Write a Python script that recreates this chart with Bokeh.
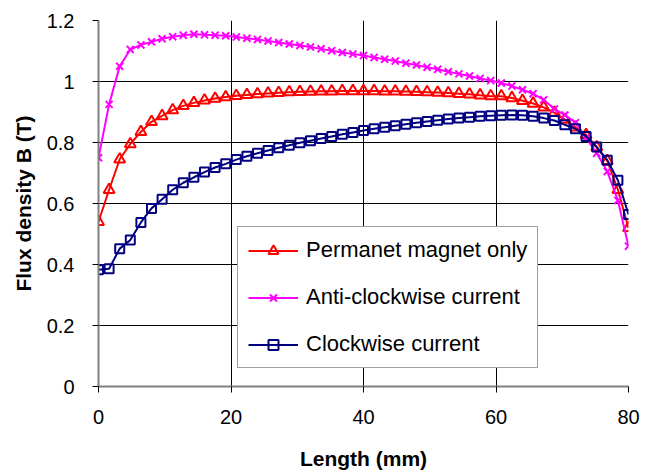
from bokeh.plotting import figure
from bokeh.models import Range1d, FixedTicker, Legend
from bokeh.embed import file_html
from bokeh.resources import INLINE

# ---- data ----
length_mm = [round(1.6 * i, 1) for i in range(51)]

permanent_only = [0.54, 0.645, 0.745, 0.795, 0.835, 0.868, 0.887, 0.906, 0.92, 0.93,
                  0.938, 0.944, 0.949, 0.953, 0.956, 0.959, 0.961, 0.963, 0.965, 0.966,
                  0.967, 0.968, 0.968, 0.969, 0.969, 0.969, 0.969, 0.968, 0.968, 0.967,
                  0.966, 0.965, 0.964, 0.962, 0.96, 0.958, 0.955, 0.952, 0.952, 0.946,
                  0.937, 0.928, 0.915, 0.898, 0.875, 0.85, 0.825, 0.785, 0.74, 0.645, 0.52]

anti_clockwise = [0.75, 0.925, 1.05, 1.105, 1.12, 1.13, 1.14, 1.147, 1.152, 1.155,
                  1.153, 1.152, 1.15, 1.146, 1.142, 1.138, 1.133, 1.128, 1.123, 1.118,
                  1.113, 1.107, 1.101, 1.095, 1.09, 1.085, 1.079, 1.073, 1.067, 1.06,
                  1.054, 1.047, 1.04, 1.032, 1.025, 1.018, 1.01, 1.003, 0.995, 0.985,
                  0.973, 0.96, 0.94, 0.91, 0.89, 0.865, 0.815, 0.765, 0.705, 0.61, 0.46]

clockwise = [0.383, 0.386, 0.452, 0.48, 0.538, 0.584, 0.614, 0.645, 0.668, 0.686,
             0.703, 0.718, 0.73, 0.744, 0.755, 0.765, 0.774, 0.783, 0.791, 0.799,
             0.806, 0.813, 0.82, 0.827, 0.833, 0.839, 0.845, 0.85, 0.855, 0.86,
             0.865, 0.869, 0.873, 0.877, 0.88, 0.883, 0.886, 0.888, 0.889, 0.89,
             0.889, 0.886, 0.88, 0.872, 0.858, 0.845, 0.82, 0.785, 0.742, 0.676, 0.564]

series_names = ["Permanet magnet only", "Anti-clockwise current", "Clockwise current"]
x_ticks = [0, 20, 40, 60, 80]
y_ticks = [0, 0.2, 0.4, 0.6, 0.8, 1, 1.2]
y_tick_labels = ["0", "0.2", "0.4", "0.6", "0.8", "1", "1.2"]

FONT = "Liberation Sans"

p = figure(width=644, height=472, output_backend="svg", toolbar_location=None,
           x_range=Range1d(0, 80), y_range=Range1d(0, 1.2),
           min_border_left=98, min_border_right=16, min_border_top=20, min_border_bottom=82)
p.outline_line_color = None
p.background_fill_color = "white"
p.border_fill_color = "white"

styles = [
    (permanent_only, "#FF0000", "triangle", 11),
    (anti_clockwise, "#FF00FF", "x", 10),
    (clockwise, "#000080", "square", 9),
]
items = []
for (vals, col, mk, sz), name in zip(styles, series_names):
    l = p.line(length_mm, vals, line_color=col, line_width=2)
    s = p.scatter(length_mm, vals, marker=mk, size=sz, line_color=col, fill_color=None, line_width=2)
    items.append((name, [l, s]))

legend = Legend(items=items, location=(139, 18))
legend.label_text_font = FONT
legend.label_text_font_size = "22px"
legend.label_text_color = "black"
legend.glyph_width = 50
legend.glyph_height = 25
legend.label_height = 25
legend.label_standoff = 8
legend.spacing = 21
legend.padding = 10
legend.margin = 0
legend.border_line_color = "#404040"
legend.border_line_width = 1
legend.background_fill_color = "white"
legend.background_fill_alpha = 1
p.add_layout(legend, "center")

# axes
p.xaxis.ticker = FixedTicker(ticks=x_ticks)
p.yaxis.ticker = FixedTicker(ticks=y_ticks)
p.yaxis.major_label_overrides = dict(zip(y_ticks, y_tick_labels))
p.xgrid.ticker = FixedTicker(ticks=x_ticks)
p.ygrid.ticker = FixedTicker(ticks=y_ticks)
for g in (p.xgrid, p.ygrid):
    g.grid_line_color = "black"
    g.grid_line_width = 1

for ax in (p.xaxis, p.yaxis):
    ax.major_label_text_font = FONT
    ax.major_label_text_font_size = "20px"
    ax.major_label_text_color = "black"
    ax.axis_label_text_font = FONT
    ax.axis_label_text_font_size = "21px"
    ax.axis_label_text_font_style = "bold"
    ax.axis_label_text_color = "black"
    ax.minor_tick_line_color = None
    ax.major_tick_in = 0
    ax.major_tick_out = 6
    ax.major_tick_line_color = "black"
    ax.axis_line_color = "#808080"
    ax.axis_line_width = 2

p.xaxis.axis_label = "Length (mm)"
p.yaxis.axis_label = "Flux density B (T)"
p.xaxis.major_label_standoff = 17
p.yaxis.major_label_standoff = 18
p.xaxis.axis_label_standoff = 20
p.yaxis.axis_label_standoff = 9

open("out.html", "w").write(file_html(p, INLINE))
